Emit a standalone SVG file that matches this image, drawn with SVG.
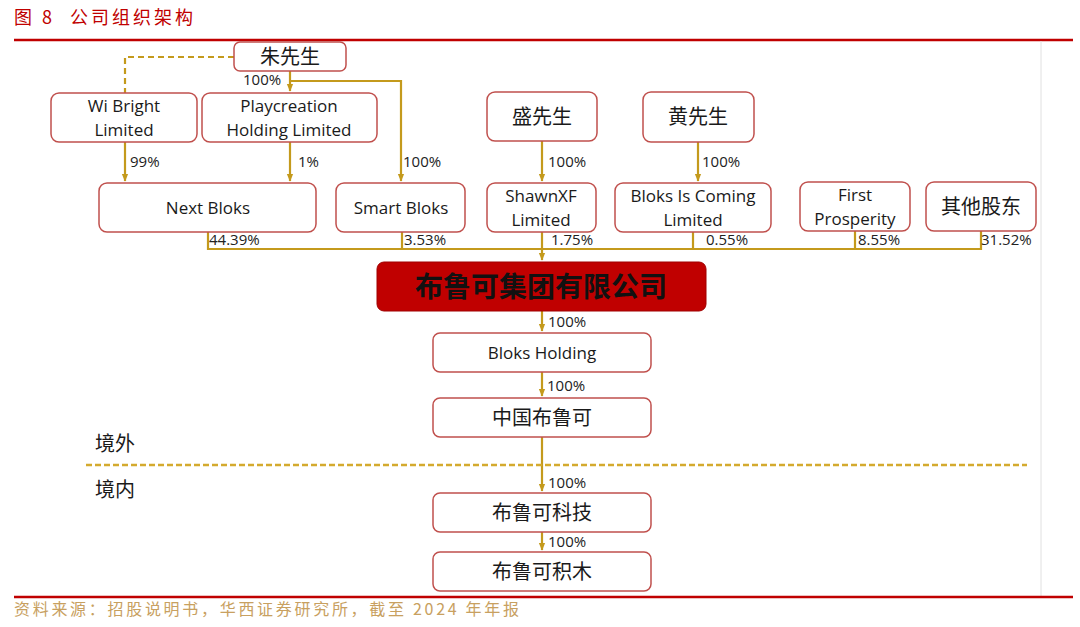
<svg xmlns="http://www.w3.org/2000/svg" width="1080" height="627" viewBox="0 0 1080 627">
<defs>
<marker id="ar" viewBox="0 0 10 10" refX="9" refY="5" markerWidth="8" markerHeight="8" markerUnits="userSpaceOnUse" orient="auto">
<path d="M0,1 L10,5 L0,9 z" fill="#c49a1c"/>
</marker>
<style>
.n{fill:#fff;stroke:#c0504d;stroke-width:1.5}
.t{font-family:"Open Sans","Noto Sans CJK SC",sans-serif;font-size:17px;fill:#1a1a1a;text-anchor:middle}
.c{font-family:"Noto Sans CJK SC",sans-serif;font-size:20px;fill:#1a1a1a;text-anchor:middle}
.p{font-family:"Open Sans","Noto Sans",sans-serif;font-size:15px;fill:#222}
.l{fill:none;stroke:#c49a1c;stroke-width:2.2}
</style>
</defs>
<rect width="1080" height="627" fill="#fff"/>
<text x="14" y="24" font-family="Noto Sans CJK SC,sans-serif" font-size="18" fill="#c00000" letter-spacing="3">图 8<tspan x="70">公司组织架构</tspan></text>
<line x1="14" y1="40" x2="1073" y2="40" stroke="#c00000" stroke-width="2.5"/>
<line x1="1041" y1="41" x2="1041" y2="596" stroke="#e0e0e0" stroke-width="1"/>
<line x1="14" y1="597" x2="1073" y2="597" stroke="#c00000" stroke-width="2.5"/>
<text x="14" y="615" font-family="Noto Sans CJK SC,sans-serif" font-size="16" fill="#c8a060" letter-spacing="2.7">资料来源：招股说明书，华西证券研究所，截至 2024 年年报</text>

<g id="connectors">
<path class="l" d="M234,57 H125 V93" stroke-dasharray="6,4"/>
<path class="l" d="M290,71 V91" marker-end="url(#ar)"/>
<path class="l" d="M290,81 H401 V181" marker-end="url(#ar)"/>
<path class="l" d="M125,142 V181" marker-end="url(#ar)"/>
<path class="l" d="M290,142 V181" marker-end="url(#ar)"/>
<path class="l" d="M542,141 V181" marker-end="url(#ar)"/>
<path class="l" d="M698,142 V181" marker-end="url(#ar)"/>
<path class="l" d="M208,232 V249 H981 V231"/>
<path class="l" d="M402,232 V249"/>
<path class="l" d="M542,232 V249"/>
<path class="l" d="M693,232 V249"/>
<path class="l" d="M855,231 V249"/>
<path class="l" d="M542,249 V260" marker-end="url(#ar)"/>
<path class="l" d="M542,311 V331" marker-end="url(#ar)"/>
<path class="l" d="M542,372 V396" marker-end="url(#ar)"/>
<path class="l" d="M542,437 V491" marker-end="url(#ar)"/>
<path class="l" d="M542,532 V550" marker-end="url(#ar)"/>
<line x1="86" y1="465" x2="1027" y2="465" stroke="#d4aa2e" stroke-width="2.5" stroke-dasharray="6,3"/>
<text class="p" x="243" y="85">100%</text>
<text class="p" x="130" y="167">99%</text>
<text class="p" x="298" y="167">1%</text>
<text class="p" x="403" y="167">100%</text>
<text class="p" x="548" y="167">100%</text>
<text class="p" x="702" y="167">100%</text>
<text class="p" x="209" y="245">44.39%</text>
<text class="p" x="404" y="245">3.53%</text>
<text class="p" x="551" y="245">1.75%</text>
<text class="p" x="706" y="245">0.55%</text>
<text class="p" x="858" y="245">8.55%</text>
<text class="p" x="981" y="245">31.52%</text>
<text class="p" x="548" y="327">100%</text>
<text class="p" x="547" y="391">100%</text>
<text class="p" x="548" y="488">100%</text>
<text class="p" x="548" y="547">100%</text>
<text class="c" x="115" y="451" font-size="16">境外</text>
<text class="c" x="115" y="497" font-size="16">境内</text>
</g>

<g id="zhu"><rect class="n" x="234" y="42" width="112" height="29" rx="6"/><text class="c" x="290" y="64">朱先生</text></g>
<g id="wibright"><rect class="n" x="51" y="93" width="146" height="49" rx="8"/><text class="t" x="124" y="112">Wi Bright</text><text class="t" x="124" y="136">Limited</text></g>
<g id="playcreation"><rect class="n" x="202" y="93" width="175" height="49" rx="8"/><text class="t" x="289" y="112">Playcreation</text><text class="t" x="289" y="136">Holding Limited</text></g>
<g id="sheng"><rect class="n" x="487" y="92" width="110" height="49" rx="8"/><text class="c" x="542" y="124">盛先生</text></g>
<g id="huang"><rect class="n" x="643" y="92" width="111" height="50" rx="8"/><text class="c" x="698" y="124">黄先生</text></g>
<g id="nextbloks"><rect class="n" x="99" y="183" width="217" height="49" rx="8"/><text class="t" x="208" y="214">Next Bloks</text></g>
<g id="smartbloks"><rect class="n" x="336" y="183" width="129" height="49" rx="8"/><text class="t" x="401" y="214">Smart Bloks</text></g>
<g id="shawnxf"><rect class="n" x="487" y="183" width="109" height="49" rx="8"/><text class="t" x="541" y="202">ShawnXF</text><text class="t" x="541" y="226">Limited</text></g>
<g id="blokscoming"><rect class="n" x="615" y="183" width="156" height="49" rx="8"/><text class="t" x="693" y="202">Bloks Is Coming</text><text class="t" x="693" y="226">Limited</text></g>
<g id="firstprosperity"><rect class="n" x="800" y="182" width="110" height="49" rx="8"/><text class="t" x="855" y="201">First</text><text class="t" x="855" y="225">Prosperity</text></g>
<g id="others"><rect class="n" x="926" y="182" width="110" height="49" rx="8"/><text class="c" x="981" y="214">其他股东</text></g>
<g id="group"><rect x="377" y="262" width="329" height="49" rx="7" fill="#c00000" stroke="#a00000" stroke-width="1"/><text x="541" y="297" font-family="Noto Sans CJK SC,sans-serif" font-size="28" font-weight="bold" fill="#111" text-anchor="middle">布鲁可集团有限公司</text></g>
<g id="blokshold"><rect class="n" x="433" y="333" width="218" height="39" rx="7"/><text class="t" x="542" y="359">Bloks Holding</text></g>
<g id="china"><rect class="n" x="433" y="398" width="218" height="39" rx="7"/><text class="c" x="542" y="425">中国布鲁可</text></g>
<g id="tech"><rect class="n" x="433" y="493" width="218" height="39" rx="7"/><text class="c" x="542" y="520">布鲁可科技</text></g>
<g id="jimu"><rect class="n" x="433" y="552" width="218" height="39" rx="7"/><text class="c" x="542" y="579">布鲁可积木</text></g>
</svg>
